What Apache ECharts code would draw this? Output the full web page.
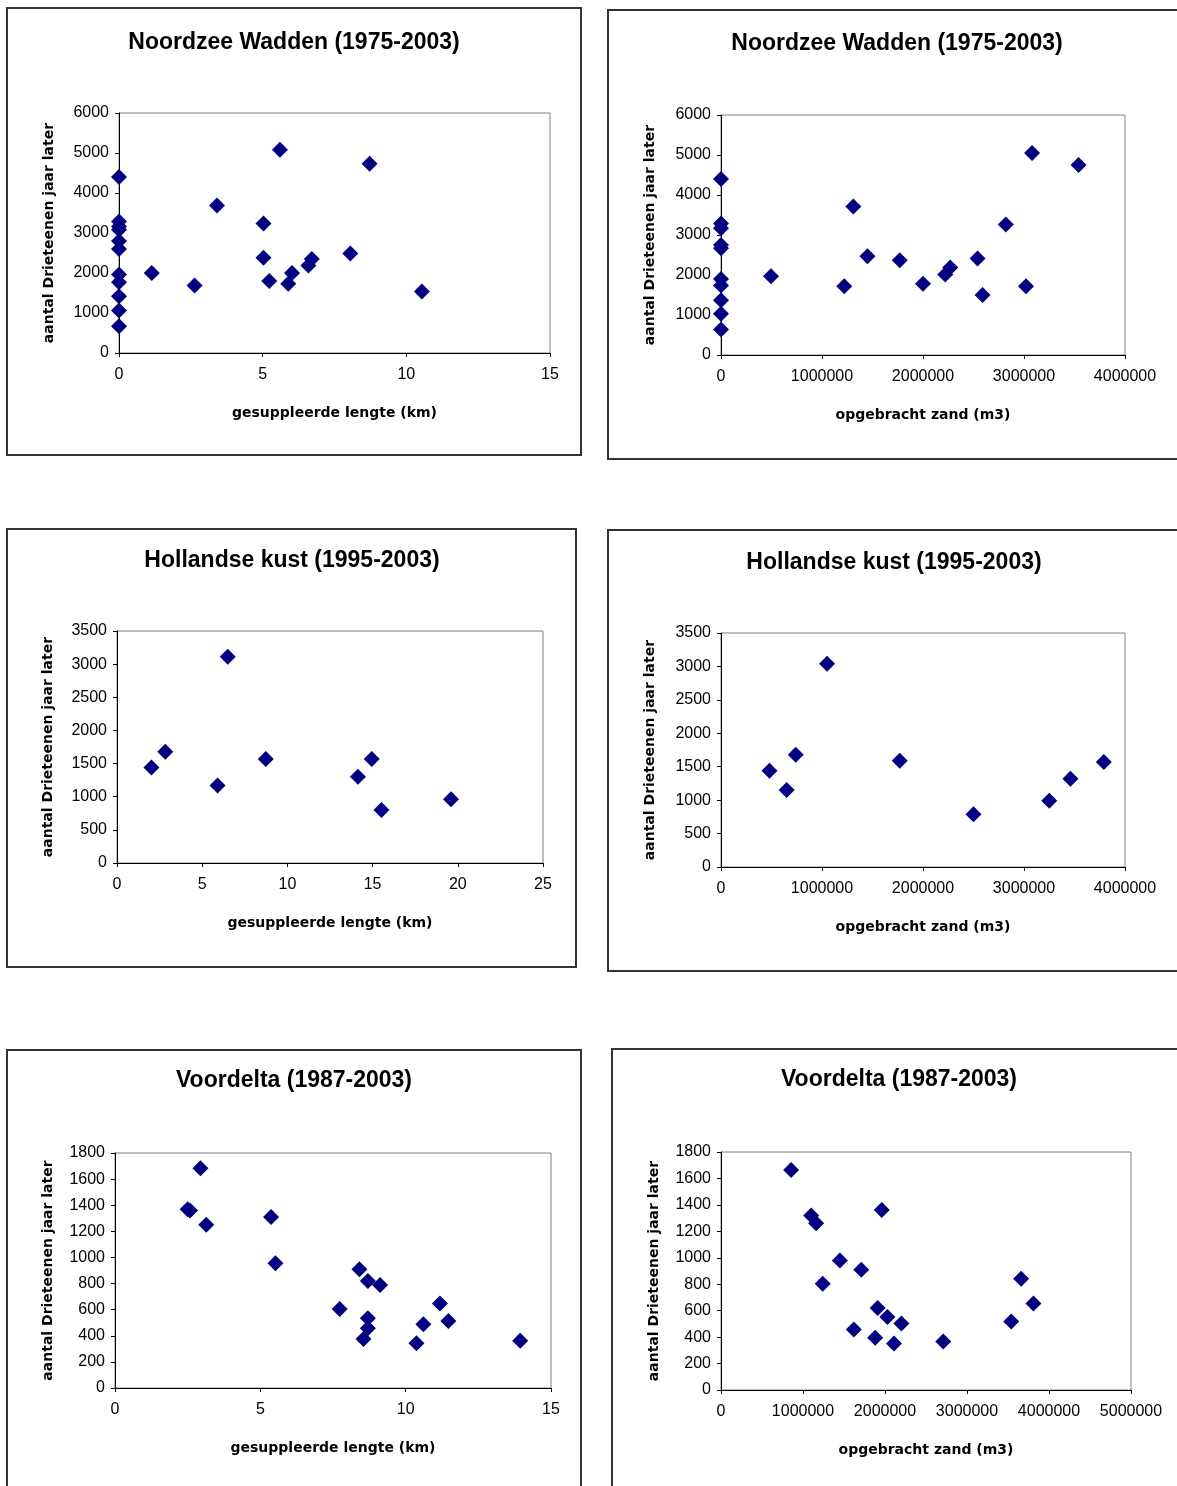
<!DOCTYPE html>
<html>
<head>
<meta charset="utf-8">
<title>Drieteenen suppleties</title>
<script src="https://cdn.jsdelivr.net/npm/echarts@6/dist/echarts.min.js"></script>
<style>
  html, body { margin: 0; padding: 0; background: #fff; }
  #main { width: 1177px; height: 1486px; }
</style>
</head>
<body>
<div id="main"></div>
<script>
// titels en assen
var titles = ['Noordzee Wadden (1975-2003)', 'Noordzee Wadden (1975-2003)',
  'Hollandse kust (1995-2003)', 'Hollandse kust (1995-2003)',
  'Voordelta (1987-2003)', 'Voordelta (1987-2003)'];
var yName = 'aantal Drieteenen jaar later';
var xNames = ['gesuppleerde lengte (km)', 'opgebracht zand (m3)',
  'gesuppleerde lengte (km)', 'opgebracht zand (m3)',
  'gesuppleerde lengte (km)', 'opgebracht zand (m3)'];
var xMax = [15, 4000000, 25, 4000000, 15, 5000000];
var xStep = [5, 1000000, 5, 1000000, 5, 1000000];
var yMax = [6000, 6000, 3500, 3500, 1800, 1800];
var yStep = [1000, 1000, 500, 500, 200, 200];

// Noordzee Wadden - lengte (km)
var waddenKm = [
  [0, 4400], [0, 3290], [0, 3160], [0, 3080], [0, 2800], [0, 2600], [0, 1960],
  [0, 1770], [0, 1420], [0, 1060], [0, 670],
  [1.14, 2000], [2.63, 1690], [3.41, 3690], [5.03, 3240], [5.03, 2380],
  [5.23, 1800], [5.6, 5080], [5.89, 1730], [6.02, 2000], [6.59, 2190],
  [6.71, 2350], [8.05, 2490], [8.72, 4730], [10.54, 1540]
];
// Noordzee Wadden - zand (m3)
var waddenZand = [
  [0, 4400], [0, 3290], [0, 3170], [0, 2750], [0, 2670], [0, 1900],
  [0, 1740], [0, 1370], [0, 1030], [0, 640],
  [495000, 1970], [1220000, 1720], [1310000, 3710], [1450000, 2470],
  [1770000, 2370], [2000000, 1780], [2220000, 2010], [2270000, 2190],
  [2540000, 2410], [2590000, 1500], [2820000, 3260], [3020000, 1720],
  [3080000, 5050], [3540000, 4750]
];
// Hollandse kust - lengte (km)
var hollandKm = [
  [2.02, 1440], [2.83, 1680], [5.9, 1170], [6.5, 3110], [8.73, 1570],
  [14.14, 1300], [14.95, 1570], [15.52, 800], [19.6, 960]
];
// Hollandse kust - zand (m3)
var hollandZand = [
  [480000, 1440], [650000, 1150], [740000, 1680], [1050000, 3040],
  [1770000, 1590], [2500000, 790], [3250000, 990], [3460000, 1320],
  [3790000, 1570]
];
// Voordelta - lengte (km)
var deltaKm = [
  [2.94, 1683], [2.5, 1370], [2.58, 1360], [3.14, 1251], [5.37, 1309],
  [5.52, 956], [7.73, 605], [8.41, 910], [8.7, 819], [9.12, 788],
  [8.7, 534], [8.7, 458], [8.55, 376], [10.61, 488], [10.37, 343],
  [11.18, 648], [11.47, 514], [13.94, 361]
];
// Voordelta - zand (m3)
var deltaZand = [
  [855000, 1664], [1100000, 1320], [1160000, 1262], [1960000, 1362],
  [1240000, 804], [1450000, 980], [1710000, 910], [1910000, 621],
  [2030000, 553], [2200000, 503], [1620000, 457], [1880000, 395],
  [2110000, 352], [2710000, 367], [3540000, 518], [3660000, 842],
  [3810000, 654]
];
var allData = [waddenKm, waddenZand, hollandKm, hollandZand, deltaKm, deltaZand];

// plaats van de panelen (px)
var panels = [
  [7, 8, 574, 447], [608, 10, 580, 449],
  [7, 529, 569, 438], [608, 530, 580, 441],
  [7, 1050, 574, 450], [612, 1049, 580, 450]
];
var grids = [
  [119, 113, 431, 240], [721, 115, 404, 240],
  [117, 631, 426, 232], [721, 633, 404, 234],
  [115, 1153, 436, 235], [721, 1152, 410, 238]
];
var titlePos = [[289, 26], [892, 27], [287, 544], [889, 546], [289, 1064], [894, 1063]];
var yGaps = [63, 64, 62, 64, 60, 60];

var myChart = echarts.init(document.getElementById('main'));

var option = {
  backgroundColor: '#fff',
  animation: false,
  title: [],
  grid: [],
  xAxis: [],
  yAxis: [],
  series: [],
  graphic: []
};

for (var i = 0; i < 6; i++) {
  var p = panels[i];
  option.graphic.push({
    type: 'rect',
    shape: { x: p[0], y: p[1], width: p[2], height: p[3] },
    style: { fill: 'none', stroke: '#333', lineWidth: 2 },
    z: -1
  });
  option.title.push({
    text: titles[i],
    left: titlePos[i][0],
    top: titlePos[i][1],
    textAlign: 'center',
    textStyle: { fontFamily: 'Liberation Sans', fontSize: 23, fontWeight: 'bold', color: '#000' }
  });
  var g = grids[i];
  option.grid.push({
    left: g[0], top: g[1], width: g[2], height: g[3],
    show: true, borderColor: '#808080', borderWidth: 1, backgroundColor: '#fff'
  });
  option.xAxis.push({
    type: 'value',
    gridIndex: i,
    min: 0,
    max: xMax[i],
    interval: xStep[i],
    name: xNames[i],
    nameLocation: 'middle',
    nameGap: 53,
    nameTextStyle: { fontFamily: 'DejaVu Sans', fontSize: 14, fontWeight: 'bold', color: '#000' },
    axisLine: { show: true, onZero: false, lineStyle: { color: '#000', width: 1 } },
    axisTick: { show: true, length: 4, lineStyle: { color: '#000' } },
    axisLabel: {
      fontFamily: 'Liberation Sans', fontSize: 16, color: '#000', margin: 14,
      formatter: function (v) { return String(v); }
    },
    splitLine: { show: false }
  });
  option.yAxis.push({
    type: 'value',
    gridIndex: i,
    min: 0,
    max: yMax[i],
    interval: yStep[i],
    name: yName,
    nameLocation: 'middle',
    nameGap: yGaps[i],
    nameTextStyle: { fontFamily: 'DejaVu Sans', fontSize: 14, fontWeight: 'bold', color: '#000' },
    axisLine: { show: true, onZero: false, lineStyle: { color: '#000', width: 1 } },
    axisTick: { show: true, length: 4, lineStyle: { color: '#000' } },
    axisLabel: {
      fontFamily: 'Liberation Sans', fontSize: 16, color: '#000', margin: 10,
      formatter: function (v) { return String(v); }
    },
    splitLine: { show: false }
  });
  option.series.push({
    type: 'scatter',
    xAxisIndex: i,
    yAxisIndex: i,
    symbol: 'diamond',
    symbolSize: 16,
    itemStyle: { color: '#000080', opacity: 1 },
    data: allData[i]
  });
}

myChart.setOption(option);
</script>
</body>
</html>
